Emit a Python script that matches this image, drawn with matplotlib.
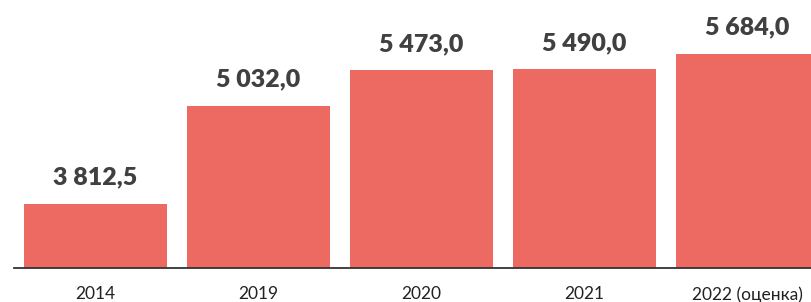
import matplotlib
matplotlib.use("Agg")
import matplotlib.pyplot as plt
import numpy as np

# Data
years = ["2014", "2019", "2020", "2021", "2022 (оценка)"]
values = [3812.5, 5032.0, 5473.0, 5490.0, 5684.0]
value_labels = ["3 812,5", "5 032,0", "5 473,0", "5 490,0", "5 684,0"]

bar_color = "#EC6A62"
text_color = "#404040"

plt.rcParams["font.family"] = ["Lato", "DejaVu Sans"]

fig = plt.figure(figsize=(8.12, 3.02), dpi=100)
ax = fig.add_axes([0.0172, 0.1126, 0.9828, 0.8874])

x = np.arange(len(years))
ax.bar(x, values, width=0.874, color=bar_color, zorder=2)

for xi, v, lab in zip(x, values, value_labels):
    ax.annotate(lab, (xi, v), xytext=(0, 11), textcoords="offset points",
                ha="center", va="bottom", fontsize=18, fontweight="heavy",
                color=text_color)

ax.set_xlim(-0.5, 4.397)
ax.set_ylim(3016, 6350)

ax.set_xticks(x)
ax.set_xticklabels(years, fontsize=12.5, color="#222222")
ax.tick_params(axis="x", length=0, pad=13)
ax.set_yticks([])

for side in ["top", "right", "left"]:
    ax.spines[side].set_visible(False)
ax.spines["bottom"].set_color("#333333")
ax.spines["bottom"].set_linewidth(1.3)
ax.spines["bottom"].set_zorder(3)

fig.savefig("out.png", dpi=100)
